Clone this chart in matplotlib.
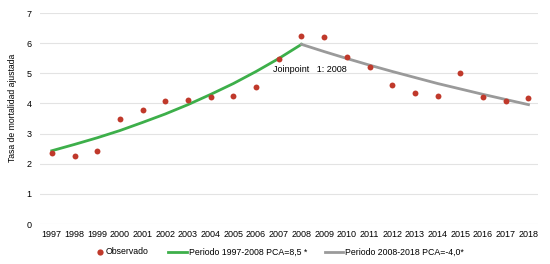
import matplotlib
matplotlib.use('Agg')
from matplotlib import pyplot as plt
from matplotlib.lines import Line2D

plt.rcParams['font.family'] = ['Liberation Sans', 'DejaVu Sans']

# ==== data ====
years = list(range(1997, 2019))
observado = [2.37, 2.27, 2.42, 3.49, 3.78, 4.07, 4.11, 4.20, 4.23, 4.55, 5.47,
             6.24, 6.20, 5.53, 5.21, 4.62, 4.34, 4.23, 5.01, 4.21, 4.09, 4.17]
years_p1 = list(range(1997, 2009))
fit_p1 = [2.43, 2.64, 2.86, 3.10, 3.37, 3.65, 3.96, 4.30, 4.66, 5.06, 5.49, 5.96]
years_p2 = list(range(2008, 2019))
fit_p2 = [5.96, 5.72, 5.49, 5.27, 5.06, 4.86, 4.66, 4.48, 4.30, 4.13, 3.96]

lab_obs = 'Observado'
lab_p1 = 'Periodo 1997-2008 PCA=8,5 *'
lab_p2 = 'Periodo 2008-2018 PCA=-4,0*'

red = '#c0392b'
green = '#3daf4a'
grey = '#9a9a9a'
W, H = 550, 264

fig = plt.figure(figsize=(5.5, 2.64), dpi=100)
ax = fig.add_axes([40/W, 1-224/H, 498/W, 211/H])

ax.grid(axis='y', color='#e3e3e3', lw=0.8, zorder=0)
ax.plot(years_p1, fit_p1, color=green, lw=2.0, zorder=2)
ax.plot(years_p2, fit_p2, color=grey, lw=2.0, zorder=2)
ax.scatter(years, observado, s=18, color=red, zorder=3, linewidths=0)

ax.text(2006.75, 5.13, 'Joinpoint   1: 2008', fontsize=6.5, ha='left', va='center')

ax.set_xlim(1996.48, 2018.42)
ax.set_ylim(0, 7)
ax.set_xticks(years)
ax.set_yticks(range(0, 8))
ax.tick_params(length=0, labelsize=6.5, pad=4)
ax.tick_params(axis='y', pad=6)
for s in ax.spines.values():
    s.set_visible(False)
ax.set_ylabel('Tasa de mortalidad ajustada', fontsize=6.2)
ax.yaxis.set_label_coords((17 - 40)/498, 0.55)

# legend drawn by hand at the reference spots
ly = 1 - 252/H
fig.add_artist(Line2D([100/W], [ly], ls='', marker='o', color=red,
                      markersize=4.5, markeredgewidth=0))
fig.text(106/W, ly, lab_obs, fontsize=6.3, va='center', ha='left')
fig.add_artist(Line2D([168/W, 187/W], [ly, ly], color=green, lw=2.0))
fig.text(189/W, ly, lab_p1, fontsize=6.3, va='center', ha='left')
fig.add_artist(Line2D([325/W, 343/W], [ly, ly], color=grey, lw=2.0))
fig.text(345/W, ly, lab_p2, fontsize=6.3, va='center', ha='left')

plt.savefig('out.png', dpi=100)
